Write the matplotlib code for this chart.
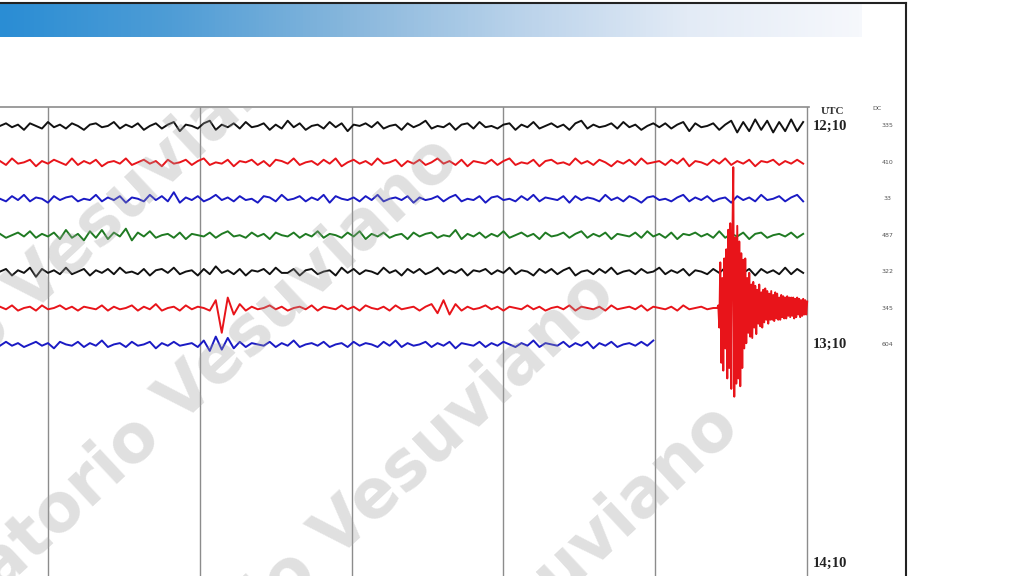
import matplotlib
import numpy as np
from matplotlib.colors import LinearSegmentedColormap
from matplotlib.lines import Line2D

matplotlib.use("Agg")
import matplotlib.pyplot as plt


# Helicorder crop: each row is 10 minutes, x is the minute within the row.
WINDOW_START = 4.684      # minute at the left edge of the crop
WINDOW_END = 10.012
GRID_MINUTES = [5, 6, 7, 8, 9, 10]
SAMPLE_DT = 6 / 152       # minutes between background samples
EVENT_START = 9.408       # onset of the local quake on row 5
EVENT_DT = 1 / 152
GAIN = 1.3 / 36.3         # row heights per count

TRACE_COLORS = ["#111111", "#e8141a", "#1a1ac4", "#1f7a22", "#111111", "#e8141a", "#1a1ac4"]
ROW_LABELS = {0: "12;10", 6: "13;10", 12: "14;10"}
DC_VALUES = ["335", "410", "33", "487", "322", "345", "604"]

ROW0 = [0, 2, -1, 1, -3, 2, 0, -2, 3, -1, 1, -2, 2, 0, -3, 1, 2, -1, 0, 3,
        -2, 1, -1, 2, -3, 0, 2, -2, 1, 3, -4, 1, 0, -2, 2, 4, -3, 1, -1, 2,
        -2, 3, -1, 0, 2, -3, 1, -2, 4, -1, 2, -3, 0, 1, -2, 3, -1, 2, -4, 1,
        0, 2, -1, 3, -2, 0, 1, -3, 2, -1, 1, 4, -2, 0, -1, 2, -3, 1, 2, -2,
        3, -1, 0, -2, 1, 2, -3, 1, -1, 3, -2, 0, 2, -1, 1, -3, 2, 4, -2, 1,
        -1, 0, 2, -2, 3, -1, 1, -3, 0, 2, -1, 2, -2, 1, 3, -4, 2, -1, 0, 2,
        -3, 1, 4, -5, 3, -4, 5, -3, 4, -5, 3, -4, 5, -4, 3]
ROW1 = [1, -2, 3, -1, 0, 2, -3, 1, -1, 2, 0, -2, 3, -2, 1, -1, 2, -3, 0, 1,
        -1, 3, -2, 0, 2, -1, 1, -3, 2, -1, 0, 2, -2, 1, 3, -2, 0, -1, 2, -3,
        1, 0, 2, -2, 1, -3, 2, 1, -1, 3, -2, 0, 1, -2, 2, -1, 3, -3, 0, 2,
        -1, 1, -2, 3, -1, 0, 2, -3, 1, -1, 2, -2, 0, 3, -1, 1, -2, 2, -3, 1,
        0, -1, 2, -2, 1, 3, -2, 0, -1, 2, -3, 1, 2, -1, 0, -2, 3, -1, 1, -2,
        2, 0, -3, 1, -1, 2, -2, 3, -1, 0, 1, -2, 2, -1, 3, -3, 1, 0, -2, 2,
        -1, 3, -2, 1, -1, 2, -3, 1, 0, 2, -2, 1, -1, 2, -1]
ROW2 = [0, -2, 2, -1, 3, -2, 1, 0, -3, 2, -1, 1, 2, -2, 0, -1, 3, -2, 1, -1,
        2, -3, 1, 0, -2, 3, -1, 2, -2, 5, -3, 1, -1, 2, -2, 0, 3, -1, 1, -2,
        2, -1, 0, -3, 2, 1, -2, 3, -1, 0, 2, -2, 1, -1, 3, -3, 2, 0, -1, 1,
        -2, 2, -1, 3, -2, 0, 1, -1, 2, -3, 1, -1, 0, 2, -2, 1, 3, -2, 0, -1,
        2, -3, 1, 2, -1, 0, -2, 2, -1, 3, -2, 1, 0, -1, 2, -3, 2, -1, 1, 0,
        -2, 3, -1, 1, -2, 2, 0, -3, 1, 2, -1, 0, -2, 1, 3, -2, 1, -1, 2, -2,
        0, 1, -3, 2, -1, 1, -2, 3, -1, 0, 2, -2, 1, 3, -2]
ROW3 = [1, -2, 0, 2, -1, 3, -2, 1, -1, 2, -3, 4, -2, 1, -4, 3, -2, 4, -3, 2,
        -1, 5, -4, 2, -1, 3, -2, 0, 1, -2, 2, -3, 1, 0, -1, 2, -2, 1, 3, -1,
        0, -2, 2, -1, 1, -3, 2, 0, -1, 2, -2, 1, -1, 3, -2, 1, 0, -2, 2, -1,
        3, -3, 1, -1, 2, -2, 0, 1, -3, 2, -1, 1, 2, -2, 0, -1, 4, -3, 1, -1,
        2, -2, 1, -1, 3, -2, 0, 2, -1, 1, -3, 2, -1, 0, 2, -2, 1, 3, -2, 1,
        -1, 2, -3, 1, 0, -1, 2, -2, 3, -1, 1, -2, 2, -3, 1, 0, 2, -1, 1, -2,
        3, -2, 1, -1, 2, -3, 1, 2, -2, 0, 1, -1, 2, -2, 1]
ROW4 = [0, 2, -3, 1, -1, 3, -4, 2, -1, 1, -2, 3, -2, 0, 2, -3, 1, -1, 2, -2,
        3, -1, 0, -2, 2, -3, 1, 2, -1, 3, -2, 0, 1, -3, 2, -2, 4, -1, 1, -2,
        2, -3, 1, 0, 2, -2, 3, -1, -1, 2, -3, 1, 2, -2, 0, 1, -3, 3, -1, 2,
        -2, 1, 0, -2, 3, -1, 1, -3, 2, -1, 2, -2, 0, 3, -2, 1, -1, 2, -3, 1,
        0, 2, -2, 1, -1, 3, -2, 1, 0, -3, 2, -1, 2, -2, 1, 3, -3, 0, 1, -2,
        2, -1, 3, -2, 0, 1, -2, 2, -1, 0, 3, -2, 1, -1, 2, -3, 1, 0, -2, 2,
        -1, 3, -2, 1, -1, 2, -3, 2, -1, 1, -2, 3, -2, 2, -1]
ROW5 = [1, -1, 2, -2, 0, 1, -2, 2, -1, 0, 2, -1, 1, -2, 1, 0, -1, 2, -2, 1,
        -1, 0, 2, -2, 1, -1, 3, -2, 0, 1, -2, 2, -1, 1, 0, -2, 6, -19, 8, -5,
        3, -2, 1, -1, 0, 2, -1, 1, -2, 0, 1, -1, 2, -2, 1, 0, -1, 2, -1, 1,
        -2, 2, 0, -1, 1, -2, 2, -1, 0, 1, -2, 1, 3, -4, 6, -5, 3, -2, 1, -1,
        0, 2, -1, 1, -2, 1, 0, -1, 2, -1, 1, -2, 0, 1, -1, 2, -2, 1, 0, -1,
        1, -2, 2, -1, 0, 1, -1, 2, -2, 1, 0, -1, 1, -2, 2, -1, 0, 1, -1, 0]
ROW6 = [-1, 2, -1, 1, -2, 0, 2, -1, 1, -3, 2, 0, -1, 2, -2, 1, -1, 3, -2, 0,
        1, -2, 2, -1, 0, 2, -3, 1, -1, 2, -1, 0, 1, -2, 3, -5, 6, -4, 5, -3,
        2, -2, 1, 0, -1, 2, -2, 1, -1, 3, -2, 0, 1, -1, 2, -2, 0, 1, -2, 2,
        -1, 1, 0, -2, 2, -1, 3, -2, 1, -1, 0, 2, -2, 1, -1, 2, -3, 1, 0, -1,
        2, -2, 1, -1, 2, 0, -2, 1, -1, 3, -2, 1, 0, -1, 2, -2, 1, -1, 2, -3,
        1, -1, 2, -2, 0, 1, -1, 2, -1, 3]
EVENT_ROW5 = [0, 2, -15, 35, -42, 23, -48, 38, -31, 45, -54, 60, -46, 65, -62, 46,
              108, -68, 54, -58, 63, -54, 51, -60, 42, -46, 37, -31, 38, -27, 23, -19,
              27, -22, 18, -23, 20, -15, 17, -20, 14, -12, 18, -14, 12, -15, 14, -11,
              15, -9, 13, -12, 11, -9, 13, -9, 10, -10, 12, -8, 11, -9, 8, -9,
              10, -7, 9, -8, 8, -8, 9, -6, 8, -7, 8, -6, 8, -8, 7, -7,
              8, -5, 7, -7, 6, -6, 7, -5, 6, -5, 5]
TRACES = [ROW0, ROW1, ROW2, ROW3, ROW4, ROW5, ROW6]

# pixel anchors (end of "Vesuviano") of the diagonal watermark
WATERMARK_ANCHORS = [(312, 52), (462, 162), (618, 297), (742, 430)]

W, H = 1024, 576
fig = plt.figure(figsize=(W / 100, H / 100), dpi=100)
fig.patch.set_facecolor("white")

# header bar with blue gradient
header = fig.add_axes([0, 1 - 37 / H, 862 / W, 33 / H])
cmap = LinearSegmentedColormap.from_list(
    "header", ["#2a8dd4", "#4f9dd6", "#86b6dc", "#b9d2ea", "#e3ebf6", "#f6f8fc"]
)
header.imshow(np.linspace(0, 1, 256)[None, :], aspect="auto", cmap=cmap)
header.axis("off")

# helicorder panel
ax = fig.add_axes([0, 0, 809 / W, (H - 107) / H])
ax.set_xlim(WINDOW_START, WINDOW_END)
ax.set_ylim(12.36, -0.52)
ax.set_xticks(GRID_MINUTES)
ax.set_yticks([])
ax.tick_params(length=0, labelbottom=False)
ax.grid(axis="x", color="#8c8c8c", linewidth=1.0)
for side in ("left", "bottom", "right"):
    ax.spines[side].set_visible(False)
ax.spines["top"].set_color("#8c8c8c")
ax.spines["top"].set_linewidth(1.2)

for row, (trace, color) in enumerate(zip(TRACES, TRACE_COLORS)):
    t = WINDOW_START + SAMPLE_DT * np.arange(len(trace))
    values = np.array(trace, dtype=float)
    if row == 5:
        t = np.concatenate([t, EVENT_START + EVENT_DT * np.arange(len(EVENT_ROW5))])
        values = np.concatenate([values, EVENT_ROW5])
    ax.plot(t, row - values * GAIN, color=color, linewidth=1.4, zorder=3)

for x_px, y_px in WATERMARK_ANCHORS:
    ax.text(x_px / W, 1 - y_px / H, "Osservatorio Vesuviano", transform=fig.transFigure,
            rotation=43, rotation_mode="anchor", ha="right", va="baseline",
            fontsize=48, fontweight="bold", family="DejaVu Sans",
            color="#a0a0a0", alpha=0.32, clip_on=True, zorder=5)

# labels on the right
ax.text(10.165, -0.40, "UTC", ha="center", va="center", fontsize=8, fontweight="bold",
        family="Liberation Serif", color="#333333", clip_on=False)
ax.text(10.46, -0.47, "DC", ha="center", va="center", fontsize=4.5,
        family="DejaVu Sans", color="#555555", clip_on=False)
for row, label in ROW_LABELS.items():
    ax.text(10.035, row, label, ha="left", va="center", fontsize=10.5, fontweight="bold",
            family="Liberation Serif", color="#222222", clip_on=False)
for row, value in enumerate(DC_VALUES):
    ax.text(10.53, row, value, ha="center", va="center", fontsize=4.5,
            family="DejaVu Sans", color="#555555", clip_on=False)

# outer frame
fig.add_artist(Line2D([0, 906 / W], [1 - 2.5 / H, 1 - 2.5 / H], transform=fig.transFigure,
                      color="#222222", linewidth=1.5))
fig.add_artist(Line2D([906 / W, 906 / W], [0, 1 - 2.5 / H], transform=fig.transFigure,
                      color="#222222", linewidth=1.5))

fig.savefig("out.png", dpi=100)
